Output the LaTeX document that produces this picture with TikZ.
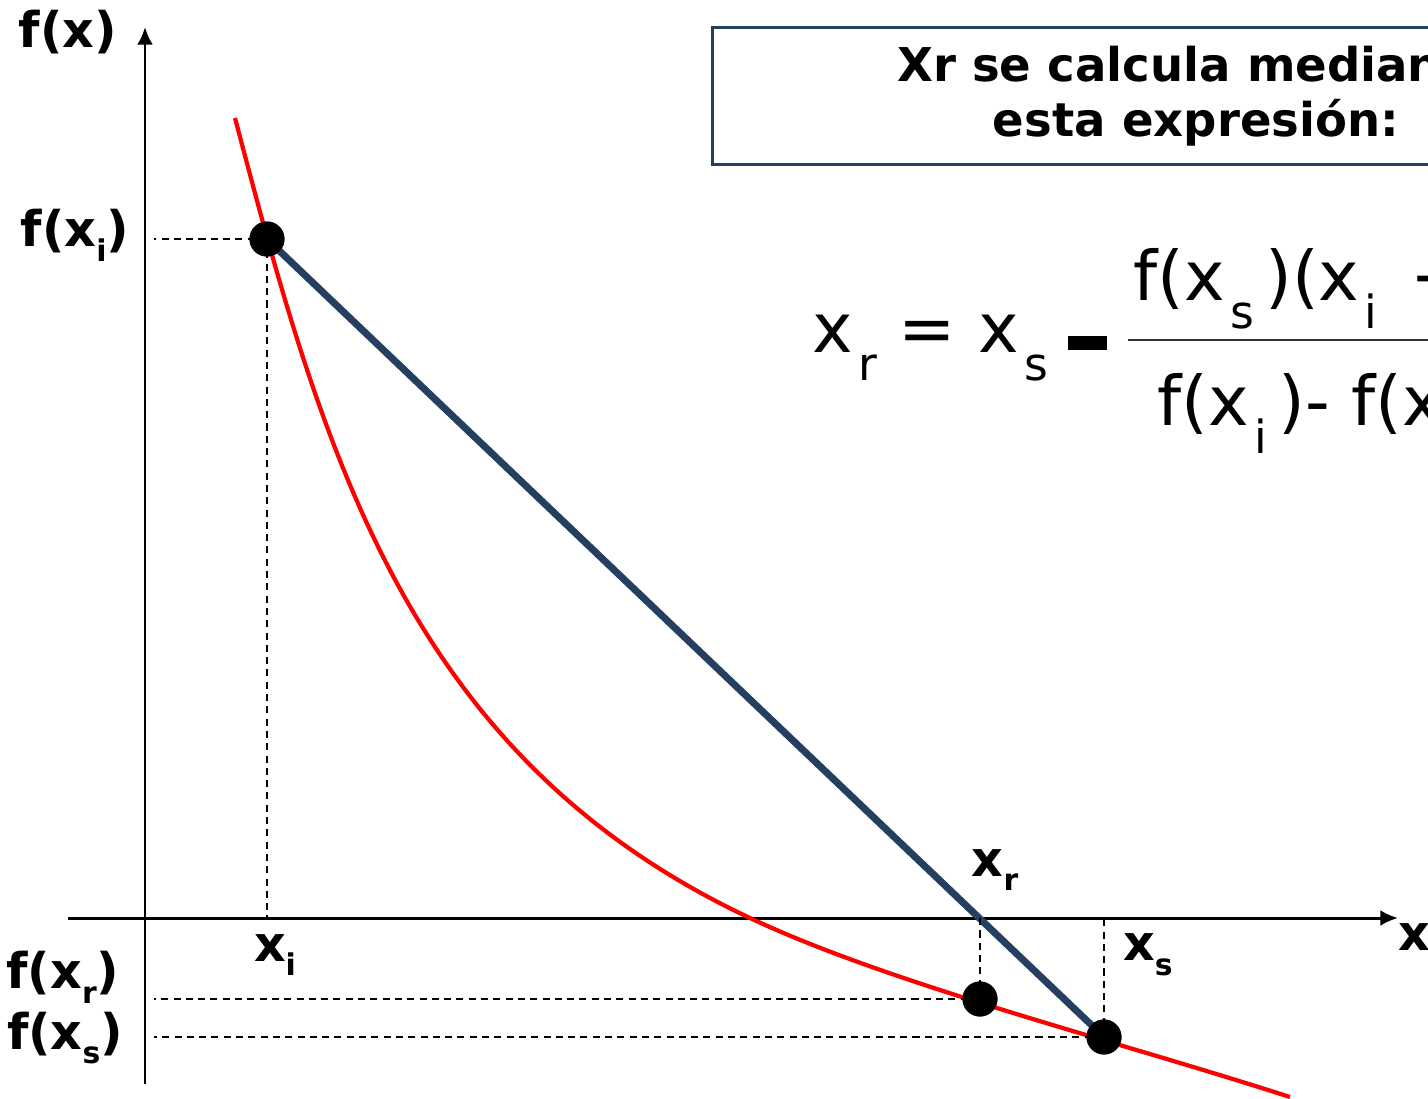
\documentclass[tikz,border=0pt]{standalone}
\usepackage{fontspec}
\setmainfont{DejaVu Sans}
\usetikzlibrary{arrows.meta}
\definecolor{SecBlue}{HTML}{243F60}
\definecolor{CurveRed}{HTML}{FF0000}
\newcommand{\lsub}[1]{\raisebox{-0.3em}{\fontsize{17}{17}\selectfont #1}}
\newcommand{\fsub}[1]{\hspace{0.08em}\raisebox{-0.42em}{\fontsize{26}{26}\selectfont #1}}

\begin{document}
\begin{tikzpicture}[x=0.02cm,y=-0.02cm,>={Latex[length=10pt,width=9pt]}]
  \tikzstyle{axis}=[->,line width=1.7pt]
  \tikzstyle{guide}=[line width=0.85pt,dash pattern=on 4pt off 3pt]
  \tikzstyle{dot}=[circle,fill=black,inner sep=0pt,minimum size=0.7cm]
  \tikzstyle{lbl}=[font=\bfseries\fontsize{28}{28}\selectfont,inner sep=0pt]
  \tikzstyle{fml}=[font=\fontsize{39}{39}\selectfont,inner sep=0pt]
  \useasboundingbox (0,0) rectangle (1428,1099);
  \clip (0,0) rectangle (1428,1099);
  % axes
  \coordinate (O) at (145,918);
  \coordinate (ytop) at (145,27);
  \coordinate (ybot) at (145,1084);
  \coordinate (xleft) at (68,918);
  \coordinate (xright) at (1398,918);
  \draw[axis] (ybot) -- (ytop);
  \draw[axis] (xleft) -- (xright);
  % points
  \node[dot] (pi) at (267,239) {};
  \node[dot] (pr) at (980,999) {};
  \node[dot] (ps) at (1104,1037) {};
  % function
  \draw[CurveRed,line width=2.4pt] (235,118)
    .. controls (322,448) and (405,756) .. (750,918)
    .. controls (890,984) and (1110,1039) .. (1290,1097);
  % secant
  \draw[SecBlue,line width=4pt] (pi.center) -- (ps.center);
  % guides
  \draw[guide] (pi.center) -- ([xshift=5pt]pi -| O);
  \draw[guide] (pi.center) -- (pi |- O);
  \draw[guide] (pr.center) -- ([xshift=5pt]pr -| O);
  \draw[guide] (pr.center) -- (pr |- O);
  \draw[guide] (ps.center) -- ([xshift=5pt]ps -| O);
  \draw[guide] (ps.center) -- (ps |- O);
  \node[dot] at (pi) {};
  \node[dot] at (pr) {};
  \node[dot] at (ps) {};
  % labels
  \node[lbl] (fx) at (68,32) {f(x)};
  \node[lbl] (fxi) at (75,235) {f(x\lsub{i})};
  \node[lbl] (fxr) at (63,977) {f(x\lsub{r})};
  \node[lbl] (fxs) at (65,1038) {f(x\lsub{s})};
  \node[lbl] (xi) at (275,955) {x\lsub{i}};
  \node[lbl] (xr) at (995,870) {x\lsub{r}};
  \node[lbl] (xs) at (1148,955) {x\lsub{s}};
  \node[lbl,anchor=west] (xlab) at (1398,937) {x};
  % box
  \node[draw=SecBlue,line width=1.7pt,minimum width=19.34cm,minimum height=2.74cm,
    align=center,font=\bfseries\fontsize{26.5}{31}\selectfont] (box) at (1196,96)
    {Xr se calcula mediante\\esta expresión:};
  % formula
  \node[fml,anchor=base west] (lhs) at (812,352) {x\fsub{r} = x\fsub{s}};
  \fill (1068,336) rectangle (1107,350);
  \draw[line width=1.1pt,black!80] (1128,340) -- (1440,340);
  \node[fml,anchor=base west] (num) at (1133,300) {f(x\fsub{s}\,)(x\fsub{i}\, − x\fsub{s})};
  \node[fml,anchor=base west] (den) at (1157,425) {f(x\fsub{i}\,)- f(x\fsub{s})};
\end{tikzpicture}
\end{document}
